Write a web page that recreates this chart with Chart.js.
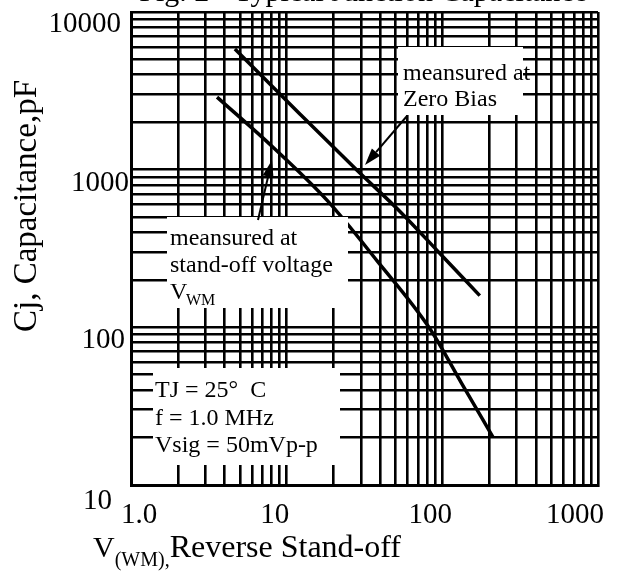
<!DOCTYPE html>
<html><head><meta charset="utf-8">
<script src="https://cdn.jsdelivr.net/npm/chart.js@4.4.0/dist/chart.umd.min.js"></script>
<style>html,body{margin:0;padding:0;background:#fff}#wrap{width:618px;height:574px;position:relative}</style>
</head><body><div id="wrap"><canvas id="c" width="618" height="574"></canvas></div>
<script>
// ---- data ----
const xTickValues = [1, 10, 100, 1000];
const xTickLabels = ['1.0', '10', '100', '1000'];
const yTickValues = [10, 100, 1000, 10000];
const yTickLabels = ['10', '100', '1000', '10000'];
const zeroBiasV = [4.65, 12.2, 28.3, 55, 96.5, 174];
const zeroBiasC = [5820, 2248, 991, 528, 294, 159];
const standoffV = [3.57, 8.17, 18.2, 38.0, 83.2, 133.6, 211];
const standoffC = [2884, 1387, 638, 265, 98, 43.8, 20.2];

const SERIF = "'Liberation Serif', 'DejaVu Serif', serif";

function logGrid(min, max) {
  const out = [];
  for (let d = min; d < max; d *= 10) {
    for (let k = 1; k < 10; k++) out.push(d * k);
  }
  out.push(max);
  return out;
}
const toPts = (xs, ys) => xs.map((v, i) => ({x: v, y: ys[i]}));

function arrow(ctx, x1, y1, x2, y2) {
  const a = Math.atan2(y2 - y1, x2 - x1);
  const L = 17, W = 5.5;
  const bx = x2 - L * Math.cos(a), by = y2 - L * Math.sin(a);
  ctx.beginPath();
  ctx.moveTo(x1, y1); ctx.lineTo(bx, by);
  ctx.lineWidth = 2; ctx.strokeStyle = '#000'; ctx.stroke();
  ctx.beginPath();
  ctx.moveTo(x2, y2);
  ctx.lineTo(bx + W * Math.sin(a), by - W * Math.cos(a));
  ctx.lineTo(bx - W * Math.sin(a), by + W * Math.cos(a));
  ctx.closePath(); ctx.fillStyle = '#000'; ctx.fill();
}

const decor = {
  id: 'decor',
  afterDatasetsDraw(chart) {
    const ctx = chart.ctx;
    const xs = chart.scales.x, ys = chart.scales.y;
    ctx.save();
    // white annotation boxes
    ctx.fillStyle = '#fff';
    [[398, 47, 523, 115], [167, 217, 348, 308], [153, 368, 340, 465]].forEach(b =>
      ctx.fillRect(b[0], b[1], b[2] - b[0], b[3] - b[1]));
    ctx.fillStyle = '#000';
    ctx.textAlign = 'left';
    ctx.textBaseline = 'alphabetic';
    ctx.font = '24px ' + SERIF;
    ctx.fillText('meansured at', 403, 80);
    ctx.fillText('Zero Bias', 403, 106);
    ctx.fillText('meansured at', 170, 245);
    ctx.fillText('stand-off voltage', 170, 272);
    ctx.fillText('V', 170, 299);
    ctx.font = '16px ' + SERIF;
    ctx.fillText('WM', 186, 305);
    ctx.font = '24px ' + SERIF;
    ctx.fillText('TJ = 25\u00B0  C', 155, 397);
    ctx.fillText('f = 1.0 MHz', 155, 425);
    ctx.fillText('Vsig = 50mVp-p', 155, 452);
    // arrows
    arrow(ctx, 407, 116, 365, 165);
    arrow(ctx, 258, 220, 272, 160);
    // x tick labels
    ctx.font = '29px ' + SERIF;
    ctx.textAlign = 'center';
    const xdx = [8, -12, -12, -23];
    xTickValues.forEach((v, i) => ctx.fillText(xTickLabels[i], xs.getPixelForValue(v) + xdx[i], 523));
    // y tick labels
    ctx.textAlign = 'right';
    const ydx = [112, 125, 129, 121];
    const ydy = [24, 21, 21, 20];
    yTickValues.forEach((v, i) => ctx.fillText(yTickLabels[i], ydx[i], ys.getPixelForValue(v) + ydy[i]));
    // axis titles
    ctx.textAlign = 'left';
    ctx.font = '30px ' + SERIF;
    ctx.fillText('V', 93, 557);
    let w = ctx.measureText('V').width;
    ctx.font = '20px ' + SERIF;
    ctx.fillText('(WM),', 93 + w, 566);
    let w2 = ctx.measureText('(WM),').width;
    ctx.font = '32px ' + SERIF;
    ctx.fillText('Reverse Stand-off', 93 + w + w2, 557);
    ctx.save();
    ctx.translate(36, 206);
    ctx.rotate(-Math.PI / 2);
    ctx.textAlign = 'center';
    ctx.font = '33px ' + SERIF;
    ctx.fillText('Cj, Capacitance,pF', 0, 0);
    ctx.restore();
    // clipped figure title at very top
    ctx.textAlign = 'right';
    ctx.font = '30px ' + SERIF;
    ctx.fillText('Fig. 2 - Typical Junction Capacitance', 587, 1);
    ctx.restore();
  }
};

const gridOpts = {color: '#000', lineWidth: 2.6, drawTicks: false};
new Chart(document.getElementById('c'), {
  type: 'scatter',
  data: {
    datasets: [
      {label: 'Zero Bias', data: toPts(zeroBiasV, zeroBiasC), showLine: true, borderColor: '#000', borderWidth: 3.5, pointRadius: 0, cubicInterpolationMode: 'monotone', fill: false},
      {label: 'Stand-off', data: toPts(standoffV, standoffC), showLine: true, borderColor: '#000', borderWidth: 3.5, pointRadius: 0, cubicInterpolationMode: 'monotone', fill: false}
    ]
  },
  options: {
    responsive: false,
    animation: false,
    layout: {padding: {left: 0, top: 12, right: 20, bottom: 0}},
    plugins: {legend: {display: false}, tooltip: {enabled: false}, title: {display: false}},
    scales: {
      x: {
        type: 'logarithmic', min: 1, max: 1000,
        grid: gridOpts,
        border: {display: true, color: '#000', width: 3},
        ticks: {display: false},
        afterBuildTicks: s => { s.ticks = logGrid(1, 1000).map(v => ({value: v})); },
        afterFit: s => { s.height = 89; }
      },
      y: {
        type: 'logarithmic', min: 10, max: 10000,
        grid: gridOpts,
        border: {display: true, color: '#000', width: 3},
        ticks: {display: false},
        afterBuildTicks: s => { s.ticks = logGrid(10, 10000).map(v => ({value: v})); },
        afterFit: s => { s.width = 131; }
      }
    }
  },
  plugins: [decor]
});
</script>
</body></html>
